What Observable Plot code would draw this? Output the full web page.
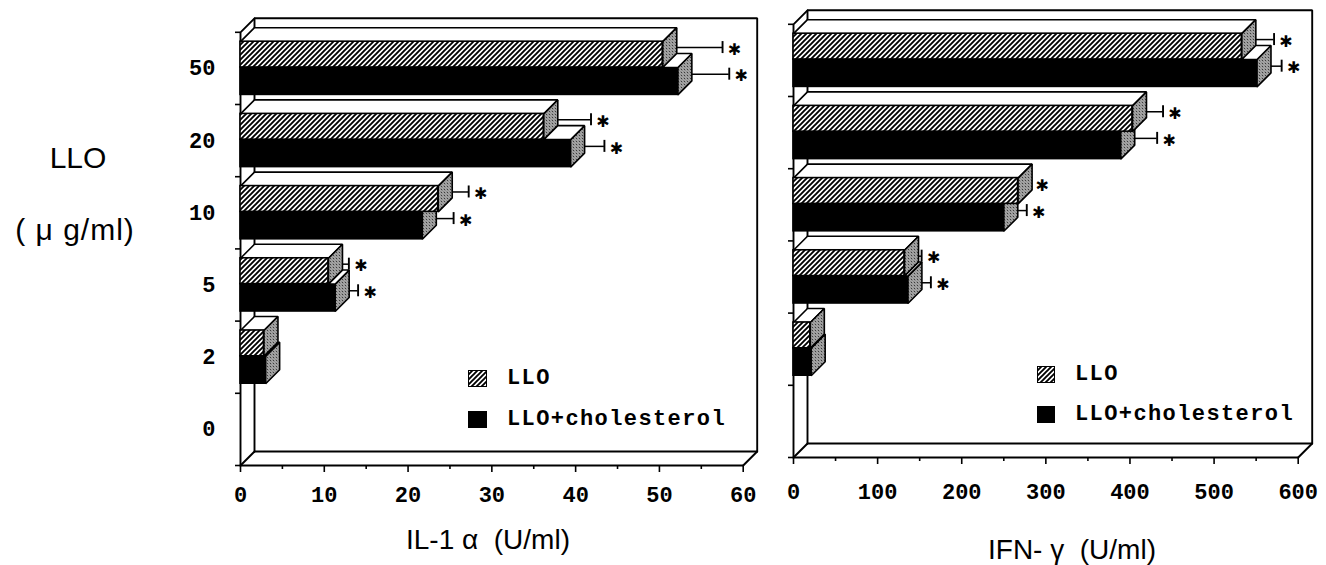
<!DOCTYPE html>
<html><head><meta charset="utf-8">
<script src="https://cdn.jsdelivr.net/npm/d3@7"></script>
<script src="https://cdn.jsdelivr.net/npm/@observablehq/plot@0.6"></script>
<style>
body{margin:0;background:#fff;width:1326px;height:565px;position:relative;overflow:hidden;font-family:"Liberation Sans",Arial,sans-serif;color:#000;}
.abs{position:absolute;}
.ttl{position:absolute;transform:translate(-50%,-50%);white-space:pre;font-size:28px;}
.leg{position:absolute;display:flex;align-items:center;height:24px;font-family:"Liberation Mono",monospace;font-weight:bold;font-size:22px;letter-spacing:1.4px;white-space:pre;}
.leg svg{margin-right:20px;}
</style></head><body>
<svg width="0" height="0" style="position:absolute;left:0;top:0">
<defs>
<pattern id="hatch" patternUnits="userSpaceOnUse" width="5" height="5">
<rect width="5" height="5" fill="#fff"/>
<path d="M-1,1 l2,-2 M0,5 l5,-5 M4,6 l2,-2" stroke="#000" stroke-width="1.9"/>
</pattern>
<pattern id="stipple" patternUnits="userSpaceOnUse" width="3" height="3">
<rect width="3" height="3" fill="#fff"/>
<rect width="1" height="1" fill="#000"/>
<rect x="1" y="1" width="1" height="1" fill="#333"/>
<rect x="2" y="2" width="1" height="1" fill="#000"/>
<rect x="2" y="0" width="1" height="1" fill="#777"/>
<rect x="0" y="2" width="1" height="1" fill="#777"/>
</pattern>
</defs></svg>
<div id="left" class="abs" style="left:0;top:0"></div>
<div id="right" class="abs" style="left:770px;top:0"></div>
<script>
// ---- data ----
const doses = ["0", "2", "5", "10", "20", "50"];           // LLO (µg/ml), bottom to top
const significant = [false, false, true, true, true, true];
const seriesNames = ["LLO", "LLO+cholesterol"];

const il1Ticks = [0, 10, 20, 30, 40, 50, 60];
const il1Minor = [5, 15, 25, 35, 45, 55];
const il1Llo = [0, 2.8, 10.5, 23.6, 36.2, 50.4];
const il1LloErr = [0, 0, 1.6, 2.8, 4.8, 6.3];
const il1Chol = [0, 3.0, 11.3, 21.7, 39.4, 52.2];
const il1CholErr = [0, 0, 1.9, 2.9, 3.2, 5.3];

const ifnTicks = [0, 100, 200, 300, 400, 500, 600];
const ifnMinor = [50, 150, 250, 350, 450, 550];
const ifnLlo = [0, 20, 132, 267, 403, 533];
const ifnLloErr = [0, 0, 12, 6, 28, 30];
const ifnChol = [0, 21, 136, 250, 389, 551];
const ifnCholErr = [0, 0, 19, 19, 35, 21];

const DEPTH = 14;

function buildPanel(cfg) {
  const {ticks, minor, llo, lloErr, chol, cholErr, width, height, mL, mR, mT, mB, yLabels, tickPad} = cfg;
  const xmax = ticks[ticks.length - 1];
  const n = doses.length;
  const dX = DEPTH * xmax / (width - mL - mR);
  const dY = DEPTH * n / (height - mT - mB);
  const capY = 6 * n / (height - mT - mB);
  const bars = [];
  doses.forEach((dose, i) => {
    const top = i + 1, lT = top - 0.13, mid = top - 0.487, cB = top - 0.867;
    if (llo[i] > 0) bars.push({s: "llo", v: llo[i], e: lloErr[i], t: lT, b: mid, sig: significant[i]});
    if (chol[i] > 0) bars.push({s: "chol", v: chol[i], e: cholErr[i], t: mid, b: cB, sig: significant[i], over: llo[i]});
  });
  const L = bars.filter(b => b.s === "llo"), C = bars.filter(b => b.s === "chol");
  const poly = (list, f) => list.flatMap((b, k) => f(b).map(([x, y]) => ({k, x, y})));
  const topF = b => [[0, b.t], [b.v, b.t], [b.v + dX, b.t + dY], [dX, b.t + dY], [0, b.t]];
  const sideF = b => [[b.v, b.t], [b.v + dX, b.t + dY], [b.v + dX, b.b + dY], [b.v, b.b], [b.v, b.t]];
  const cTopF = b => [[b.over, b.t], [b.v, b.t], [b.v + dX, b.t + dY], [b.over + dX, b.t + dY], [b.over, b.t]];
  const frame = [
    [[dX, dY], [xmax + dX, dY], [xmax + dX, n + dY], [dX, n + dY], [dX, dY]],
    [[0, 0], [dX, dY]],
    [[xmax, 0], [xmax + dX, dY]],
    [[0, 0], [xmax, 0]],
    [[0, 0], [0, n], [dX, n + dY]]
  ].flatMap((pts, k) => pts.map(([x, y]) => ({k, x, y})));
  const errs = bars.filter(b => b.e > 0).map(b => ({x1: b.v, x2: b.v + b.e, c: (b.t + b.b) / 2}));
  const stars = bars.filter(b => b.sig).map(b => ({x: b.v + b.e, c: (b.t + b.b) / 2}));
  const line = {x: "x", y: "y", z: "k", stroke: "black", strokeWidth: 1.6, strokeLinejoin: "miter"};
  return Plot.plot({
    width, height, marginLeft: mL, marginRight: mR, marginTop: mT, marginBottom: mB,
    x: {domain: [0, xmax]},
    y: {domain: [0, n]},
    style: {fontFamily: "Liberation Mono, monospace", fontWeight: "bold", fontSize: "22px", color: "black", background: "transparent", overflow: "visible"},
    marks: [
      Plot.line(frame, {...line, strokeWidth: 1.9}),
      Plot.ruleY(errs, {x1: "x1", x2: "x2", y: "c", dx: DEPTH / 2, dy: -DEPTH / 2, stroke: "black", strokeWidth: 1.5}),
      Plot.ruleX(errs, {x: "x2", y1: d => d.c - capY, y2: d => d.c + capY, dx: DEPTH / 2, dy: -DEPTH / 2, stroke: "black", strokeWidth: 1.9}),
      Plot.line(poly(C, sideF), {...line, fill: "url(#stipple)"}),
      Plot.rect(C, {x1: 0, x2: "v", y1: "b", y2: "t", fill: "black", stroke: "black", strokeWidth: 1.6}),
      Plot.line(poly(L, topF), {...line, fill: "white"}),
      Plot.rect(L, {x1: 0, x2: "v", y1: "b", y2: "t", fill: "url(#hatch)", stroke: "black", strokeWidth: 1.6}),
      Plot.line(poly(L, sideF), {...line, fill: "url(#stipple)"}),
      Plot.line(poly(C.filter(b => b.v > b.over), cTopF), {...line, fill: "white"}),
      Plot.text(stars, {x: "x", y: "c", text: d => "\u2731", dx: DEPTH / 2 + 12, dy: -5, fontSize: 16, fontFamily: "DejaVu Sans", fontWeight: "bold"}),
      Plot.axisX({ticks, tickSize: 7, tickPadding: tickPad, label: null, strokeWidth: 1.6}),
      Plot.axisX({ticks: minor, tickSize: 4, tickFormat: () => "", label: null, strokeWidth: 1.6}),
      Plot.axisY({ticks: d3.range(n + 1), tickSize: 5, tickFormat: () => "", label: null, strokeWidth: 1.6}),
      yLabels ? Plot.axisY({ticks: doses.map((d, i) => i + 0.5), tickSize: 0, tickPadding: 25, tickFormat: d => doses[Math.floor(d)], label: null}) : null
    ]
  });
}

document.getElementById("left").append(buildPanel({
  ticks: il1Ticks, minor: il1Minor, llo: il1Llo, lloErr: il1LloErr, chol: il1Chol, cholErr: il1CholErr,
  width: 770, height: 565, mL: 240, mR: 27.3, mT: 31.8, mB: 100, yLabels: true, tickPad: 14
}));
document.getElementById("right").append(buildPanel({
  ticks: ifnTicks, minor: ifnMinor, llo: ifnLlo, lloErr: ifnLloErr, chol: ifnChol, cholErr: ifnCholErr,
  width: 556, height: 565, mL: 23, mR: 28.3, mT: 23.8, mB: 108, yLabels: false, tickPad: 19
}));

// text labels
function addText(txt, cls, x, y, extra) {
  const d = document.createElement("div");
  d.className = cls; d.textContent = txt;
  d.style.left = x + "px"; d.style.top = y + "px";
  if (extra) Object.assign(d.style, extra);
  document.body.append(d);
}
addText("LLO", "ttl", 78, 158, {fontSize: "30px"});
addText("( \u03bc g/ml)", "ttl", 75, 230, {fontSize: "30px", letterSpacing: "1px"});
addText("IL-1 \u03b1  (U/ml)", "ttl", 488, 540);
addText("IFN- \u03b3  (U/ml)", "ttl", 1072, 550);

// legends
function legend(x, ys, sw) {
  seriesNames.forEach((name, i) => {
    const d = document.createElement("div");
    d.className = "leg";
    d.style.left = x + "px"; d.style.top = (ys[i] - 12) + "px";
    const fill = i === 0 ? "url(#hatch)" : "#000";
    d.innerHTML = `<svg width="${sw}" height="17"><rect x="0.5" y="0.5" width="${sw - 1}" height="16" fill="${fill}" stroke="#000"/></svg>`;
    d.append(document.createTextNode(name));
    document.body.append(d);
  });
}
legend(468, [378, 419], 19);
legend(1037, [374, 414], 18);
</script>
</body></html>
